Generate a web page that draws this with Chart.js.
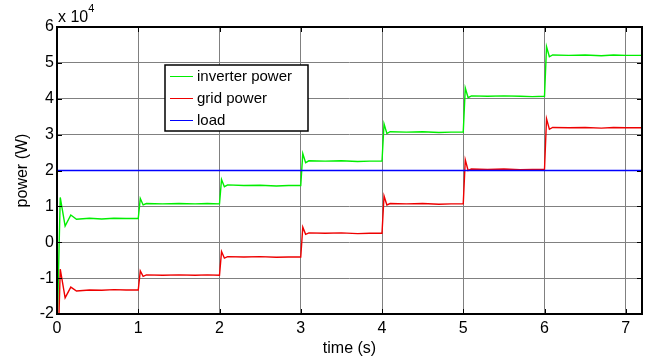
<!DOCTYPE html>
<html>
<head>
<meta charset="utf-8">
<script src="https://cdn.jsdelivr.net/npm/chart.js@4.4.1/dist/chart.umd.min.js"></script>
<style>
html,body{margin:0;padding:0;background:#fff;}
#wrap{width:651px;height:358px;position:relative;}
</style>
</head>
<body>
<div id="wrap"><canvas id="c" width="651" height="358"></canvas></div>
<script>
// values in units of 10^4 W
const time = [0, 0.04, 0.10, 0.17, 0.24, 0.40, 0.55, 0.70, 0.85, 1.00,
  1.025, 1.06, 1.10, 1.30, 1.50, 1.70, 1.85, 2.00,
  2.025, 2.06, 2.10, 2.30, 2.50, 2.70, 2.85, 3.00,
  3.025, 3.06, 3.10, 3.30, 3.50, 3.70, 3.85, 4.00,
  4.025, 4.06, 4.10, 4.30, 4.50, 4.70, 4.85, 5.00,
  5.025, 5.06, 5.10, 5.30, 5.50, 5.70, 5.85, 6.00,
  6.025, 6.06, 6.10, 6.30, 6.50, 6.70, 6.85, 7.00, 7.20];
const inverterPower = [-2.6, 1.25, 0.45, 0.76, 0.64, 0.67, 0.65, 0.67, 0.66, 0.66,
  1.22, 1.04, 1.08, 1.07, 1.08, 1.07, 1.08, 1.07,
  1.75, 1.55, 1.60, 1.58, 1.59, 1.57, 1.58, 1.58,
  2.47, 2.22, 2.27, 2.26, 2.27, 2.25, 2.26, 2.26,
  3.30, 3.03, 3.08, 3.07, 3.08, 3.06, 3.07, 3.07,
  4.30, 4.03, 4.08, 4.07, 4.08, 4.07, 4.06, 4.07,
  5.45, 5.17, 5.22, 5.21, 5.22, 5.20, 5.22, 5.21, 5.21];
const gridPower = [-4.0, -0.75, -1.55, -1.25, -1.36, -1.33, -1.34, -1.32, -1.33, -1.33,
  -0.80, -0.95, -0.91, -0.92, -0.91, -0.92, -0.91, -0.92,
  -0.26, -0.44, -0.40, -0.41, -0.40, -0.42, -0.41, -0.41,
  0.42, 0.22, 0.26, 0.25, 0.26, 0.24, 0.25, 0.25,
  1.29, 1.04, 1.08, 1.07, 1.08, 1.06, 1.07, 1.07,
  2.30, 2.00, 2.04, 2.03, 2.04, 2.02, 2.03, 2.03,
  3.44, 3.15, 3.20, 3.19, 3.20, 3.18, 3.20, 3.19, 3.19];
const loadTime = [0, 0.002, 7.2];
const loadPower = [0, 2, 2];
const seriesLabels = ['inverter power', 'grid power', 'load'];
const seriesColors = ['#00ee00', '#ee0000', '#0000ff'];
const xTicks = [0, 1, 2, 3, 4, 5, 6, 7];
const yTicks = [-2, -1, 0, 1, 2, 3, 4, 5, 6];

const FONT = 'Liberation Sans, Arial, sans-serif';
const toXY = (xs, ys) => xs.map((x, i) => ({x: x, y: ys[i]}));

const framePlugin = {
  id: 'frame',
  afterDraw(chart) {
    const ctx = chart.ctx, a = chart.chartArea;
    const xs = chart.scales.x, ys = chart.scales.y;
    ctx.save();
    ctx.strokeStyle = '#000';
    ctx.lineWidth = 1;
    ctx.beginPath();
    xTicks.forEach(v => {
      const px = Math.round(xs.getPixelForValue(v)) + 0.5;
      ctx.moveTo(px, a.top); ctx.lineTo(px, a.top + 5);
      ctx.moveTo(px, a.bottom); ctx.lineTo(px, a.bottom - 5);
    });
    yTicks.forEach(v => {
      const py = Math.round(ys.getPixelForValue(v)) + 0.5;
      ctx.moveTo(a.right, py); ctx.lineTo(a.right - 5, py);
      ctx.moveTo(a.left, py); ctx.lineTo(a.left + 5, py);
    });
    ctx.stroke();
    ctx.lineWidth = 2;
    ctx.strokeRect(a.left, a.top, a.right - a.left, a.bottom - a.top);
    ctx.fillStyle = '#000';
    ctx.textBaseline = 'alphabetic';
    ctx.textAlign = 'left';
    ctx.font = '16px ' + FONT;
    ctx.fillText('x 10', a.left + 1, a.top - 5);
    const w = ctx.measureText('x 10').width;
    ctx.font = '11px ' + FONT;
    ctx.fillText('4', a.left + 1 + w, a.top - 15);
    const lx = a.left + 108, ly = a.top + 38, lw = 143, lh = 66;
    ctx.fillStyle = '#fff';
    ctx.fillRect(lx, ly, lw, lh);
    ctx.lineWidth = 1.5;
    ctx.strokeStyle = '#000';
    ctx.strokeRect(lx, ly, lw, lh);
    ctx.font = '15px ' + FONT;
    ctx.textBaseline = 'middle';
    seriesLabels.forEach((lab, i) => {
      const cy = ly + 11 + i * 22;
      ctx.strokeStyle = seriesColors[i];
      ctx.lineWidth = 1;
      ctx.beginPath();
      ctx.moveTo(lx + 5, cy + 0.5); ctx.lineTo(lx + 28, cy + 0.5);
      ctx.stroke();
      ctx.fillStyle = '#000';
      ctx.fillText(lab, lx + 32, cy + 1);
    });
    ctx.restore();
  }
};

new Chart(document.getElementById('c'), {
  type: 'line',
  data: {
    datasets: [
      {label: seriesLabels[0], data: toXY(time, inverterPower), borderColor: seriesColors[0], borderWidth: 1.4, pointRadius: 0, tension: 0, order: 2},
      {label: seriesLabels[1], data: toXY(time, gridPower), borderColor: seriesColors[1], borderWidth: 1.4, pointRadius: 0, tension: 0, order: 1},
      {label: seriesLabels[2], data: toXY(loadTime, loadPower), borderColor: seriesColors[2], borderWidth: 1.4, pointRadius: 0, tension: 0, order: 0}
    ]
  },
  options: {
    responsive: false,
    animation: false,
    events: [],
    layout: {padding: {top: 27, right: 9, left: 13, bottom: 0}},
    plugins: {legend: {display: false}, tooltip: {enabled: false}},
    scales: {
      x: {
        type: 'linear', min: 0, max: 7.2,
        afterBuildTicks: s => { s.ticks = xTicks.map(v => ({value: v})); },
        ticks: {color: '#000', font: {family: FONT, size: 16}, padding: 5, maxRotation: 0},
        grid: {color: '#808080', lineWidth: 1, tickLength: 0, drawTicks: false},
        border: {display: false},
        title: {display: true, text: 'time (s)', color: '#000', font: {family: FONT, size: 16}, padding: {top: 0, bottom: 0}},
        afterFit: s => { s.height = 44; }
      },
      y: {
        type: 'linear', min: -2, max: 6,
        afterBuildTicks: s => { s.ticks = yTicks.map(v => ({value: v})); },
        ticks: {color: '#000', font: {family: FONT, size: 16}, padding: 3},
        grid: {color: '#808080', lineWidth: 1, tickLength: 0, drawTicks: false},
        border: {display: false},
        title: {display: true, text: 'power (W)', color: '#000', font: {family: FONT, size: 16}, padding: {top: 0, bottom: 0}},
        afterFit: s => { s.width = 44; }
      }
    }
  },
  plugins: [framePlugin]
});
</script>
</body>
</html>
